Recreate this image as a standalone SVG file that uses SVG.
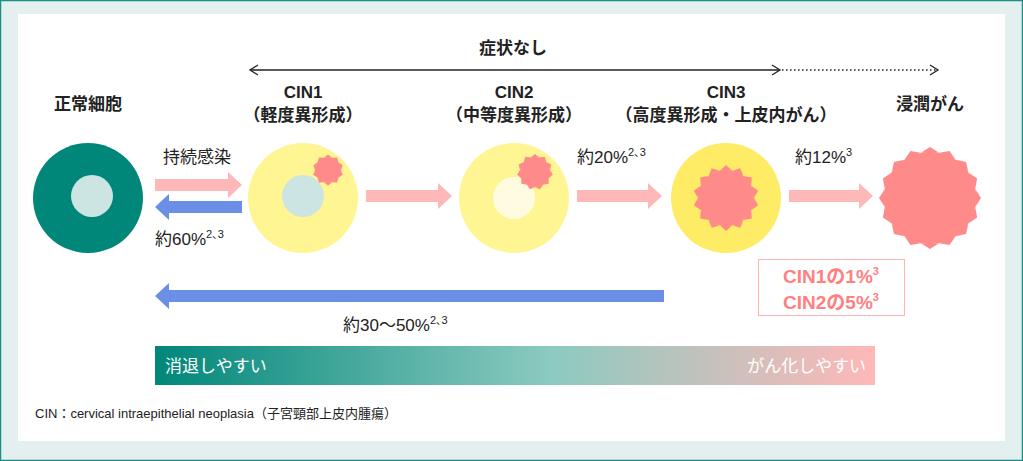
<svg xmlns="http://www.w3.org/2000/svg" xmlns:xlink="http://www.w3.org/1999/xlink" width="1023" height="461" viewBox="0 0 1023 461">
<style>
text{font-family:"Liberation Sans","Noto Sans CJK JP",sans-serif;fill:#222}
.h{font-size:17px;font-weight:bold;text-anchor:middle}
.l{font-size:17px}
.sup{font-size:11px}
.pk{fill:#ffb8b8}
.bl{fill:#6b8ee6}
.st{fill:#ff8a8a}
</style>
<defs>
<linearGradient id="g" x1="0" x2="1">
<stop offset="0" stop-color="#00877a"/><stop offset="0.55" stop-color="#8ccac0"/><stop offset="1" stop-color="#ffb8b8"/>
</linearGradient>
<marker id="oa" markerWidth="12" markerHeight="12" refX="10" refY="6" orient="auto-start-reverse" markerUnits="userSpaceOnUse"><path d="M2,1 L10,6 L2,11" fill="none" stroke="#222" stroke-width="1.3"/></marker>
<polygon id="t16" points="-9,-45.2 0,-51 9,-45.2"/>
<polygon id="t14" points="-6.2,-27.3 0,-33 6.2,-27.3"/>
<polygon id="t10" points="-3.9,-12.4 0,-15.5 3.9,-12.4"/>
<polygon id="t11" points="-4.4,-14.4 0,-18 4.4,-14.4"/>
</defs>
<rect x="0.5" y="0.5" width="1022" height="460" fill="#e4f0f0" stroke="#1a8f82" stroke-width="1.5"/>
<rect x="18" y="14" width="987" height="427" fill="#fff"/>
<g id="connectors">
<line x1="250" y1="70" x2="780" y2="70" stroke="#222" stroke-width="1.3" marker-start="url(#oa)" marker-end="url(#oa)"/>
<line x1="782" y1="70" x2="938" y2="70" stroke="#222" stroke-width="1.3" stroke-dasharray="1.5,2.5" marker-end="url(#oa)"/>
<polygon class="pk" points="155,179 228,179 228,172 242,185 228,198 228,191 155,191"/>
<polygon class="bl" points="242,201 169,201 169,194 155,207 169,220 169,213 242,213"/>
<polygon class="pk" points="366,190 438,190 438,183 452,196 438,209 438,202 366,202"/>
<polygon class="pk" points="577,190 648,190 648,183 662,196 648,209 648,202 577,202"/>
<polygon class="pk" points="789,190 859,190 859,183 873,196 859,209 859,202 789,202"/>
<polygon class="bl" points="664,290 169,290 169,283 155,296 169,309 169,302 664,302"/>
</g>
<text class="h" x="513" y="54">症状なし</text>
<g id="normal">
<text class="h" x="88" y="110">正常細胞</text>
<circle cx="88" cy="198" r="55" fill="#00877a"/><circle cx="92" cy="196" r="21" fill="#cce5e3"/>
</g>
<g id="cin1">
<text class="h" x="303" y="98">CIN1</text><text class="h" x="303" y="121">（軽度異形成）</text>
<circle cx="303" cy="198" r="55" fill="#fff593"/><circle cx="303" cy="196" r="21" fill="#cce5e3"/>
<g class="st" transform="translate(328,170)"><circle r="13"/>
<use href="#t10"/><use href="#t10" transform="rotate(36)"/><use href="#t10" transform="rotate(72)"/><use href="#t10" transform="rotate(108)"/><use href="#t10" transform="rotate(144)"/><use href="#t10" transform="rotate(180)"/><use href="#t10" transform="rotate(216)"/><use href="#t10" transform="rotate(252)"/><use href="#t10" transform="rotate(288)"/><use href="#t10" transform="rotate(324)"/></g>
</g>
<g id="cin2">
<text class="h" x="514" y="98">CIN2</text><text class="h" x="514" y="121">（中等度異形成）</text>
<circle cx="514" cy="198" r="55" fill="#fff593"/><circle cx="514" cy="198" r="21" fill="#fffbe0"/>
<g class="st" transform="translate(535,172)"><circle r="15"/>
<use href="#t11"/><use href="#t11" transform="rotate(32.7)"/><use href="#t11" transform="rotate(65.5)"/><use href="#t11" transform="rotate(98.2)"/><use href="#t11" transform="rotate(130.9)"/><use href="#t11" transform="rotate(163.6)"/><use href="#t11" transform="rotate(196.4)"/><use href="#t11" transform="rotate(229.1)"/><use href="#t11" transform="rotate(261.8)"/><use href="#t11" transform="rotate(294.5)"/><use href="#t11" transform="rotate(327.3)"/></g>
</g>
<g id="cin3">
<text class="h" x="726" y="98">CIN3</text><text class="h" x="726" y="121">（高度異形成・上皮内がん）</text>
<circle cx="726" cy="198" r="55" fill="#ffec66"/>
<g class="st" transform="translate(726,198)"><circle r="28"/>
<use href="#t14"/><use href="#t14" transform="rotate(25.7)"/><use href="#t14" transform="rotate(51.4)"/><use href="#t14" transform="rotate(77.1)"/><use href="#t14" transform="rotate(102.9)"/><use href="#t14" transform="rotate(128.6)"/><use href="#t14" transform="rotate(154.3)"/><use href="#t14" transform="rotate(180)"/><use href="#t14" transform="rotate(205.7)"/><use href="#t14" transform="rotate(231.4)"/><use href="#t14" transform="rotate(257.1)"/><use href="#t14" transform="rotate(282.9)"/><use href="#t14" transform="rotate(308.6)"/><use href="#t14" transform="rotate(334.3)"/></g>
</g>
<g id="invasive">
<text class="h" x="930" y="110">浸潤がん</text>
<g class="st" transform="translate(930,198)"><circle r="46"/>
<use href="#t16"/><use href="#t16" transform="rotate(22.5)"/><use href="#t16" transform="rotate(45)"/><use href="#t16" transform="rotate(67.5)"/><use href="#t16" transform="rotate(90)"/><use href="#t16" transform="rotate(112.5)"/><use href="#t16" transform="rotate(135)"/><use href="#t16" transform="rotate(157.5)"/><use href="#t16" transform="rotate(180)"/><use href="#t16" transform="rotate(202.5)"/><use href="#t16" transform="rotate(225)"/><use href="#t16" transform="rotate(247.5)"/><use href="#t16" transform="rotate(270)"/><use href="#t16" transform="rotate(292.5)"/><use href="#t16" transform="rotate(315)"/><use href="#t16" transform="rotate(337.5)"/></g>
</g>
<g id="labels">
<text class="l" x="197" y="163" text-anchor="middle">持続感染</text>
<text class="l" x="155" y="245">約60%<tspan class="sup" dy="-7">2､3</tspan></text>
<text class="l" x="577" y="163">約20%<tspan class="sup" dy="-7">2､3</tspan></text>
<text class="l" x="795" y="163">約12%<tspan class="sup" dy="-7">3</tspan></text>
<text class="l" x="343" y="331">約30〜50%<tspan class="sup" dy="-7">2､3</tspan></text>
</g>
<g id="note">
<rect x="758.5" y="259.5" width="146" height="56" fill="#fff" stroke="#ffb3b3"/>
<text x="831" y="283" text-anchor="middle" font-size="19" font-weight="bold" style="fill:#ff8080">CIN1の1%<tspan font-size="11" dy="-8">3</tspan></text>
<text x="831" y="309" text-anchor="middle" font-size="19" font-weight="bold" style="fill:#ff8080">CIN2の5%<tspan font-size="11" dy="-8">3</tspan></text>
</g>
<g id="scale">
<rect x="155" y="346" width="720" height="39" fill="url(#g)"/>
<text class="l" x="165" y="372" style="fill:#fff">消退しやすい</text>
<text class="l" x="866" y="372" text-anchor="end" style="fill:#fff">がん化しやすい</text>
</g>
<text x="35" y="418" font-size="13">CIN：cervical intraepithelial neoplasia（子宮頸部上皮内腫瘍）</text>
</svg>
